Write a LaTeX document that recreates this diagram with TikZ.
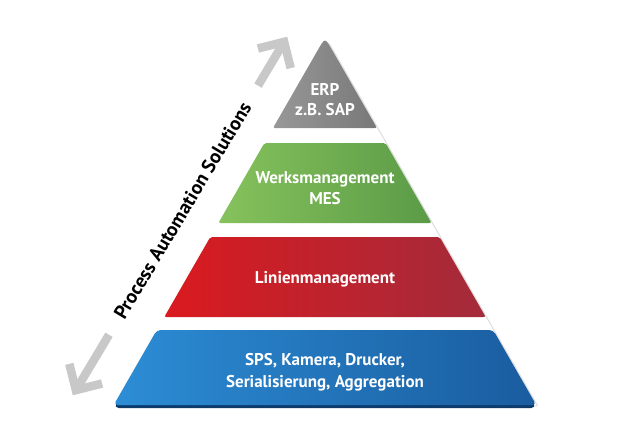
\documentclass[tikz,border=0pt]{standalone}
\usepackage{fontspec}
\setmainfont{PT Sans}
\usetikzlibrary{calc,shadows}
\definecolor{arrowgray}{HTML}{C8C8C8}
\definecolor{grayL}{HTML}{989898}
\definecolor{grayR}{HTML}{787878}
\definecolor{greenL}{HTML}{86C25C}
\definecolor{greenR}{HTML}{5B9B47}
\definecolor{redL}{HTML}{DA1A1F}
\definecolor{redR}{HTML}{A32B3B}
\definecolor{blueL}{HTML}{2C8DD5}
\definecolor{blueR}{HTML}{1A5C9F}
\definecolor{blueD}{HTML}{0C3B6C}
\begin{document}
\begin{tikzpicture}[x=1pt,y=-1pt,
  layertext/.style={text=white, font=\bfseries\fontsize{17}{20}\selectfont, anchor=base, inner sep=0pt},
  sidetext/.style={text=black, font=\bfseries\fontsize{19.5}{22}\selectfont, inner sep=0pt},
  arrowline/.style={draw=arrowgray, line width=8.5pt, line cap=butt, line join=miter, miter limit=10},
]
\useasboundingbox (0,0) rectangle (630,442);
\fill[white] (0,0) rectangle (630,442);

% white pyramid body with soft shadow (shows in the gaps)
\fill[white, drop shadow={shadow xshift=2pt, shadow yshift=-1pt, opacity=0.25}]
  (113.7,405) -- (317,51.5) .. controls (325,37.6) .. (333,51.5) -- (536.3,405) -- cycle;

% gray layer (top)
\shade[left color=grayL, right color=grayR, rounded corners=2pt]
  (273,128) -- (317,51.5) .. controls (325,37.6) .. (333,51.5) -- (377,128) -- cycle;

% green layer
\shade[left color=greenL, right color=greenR, rounded corners=2pt]
  (264.4,143) -- (385.6,143) -- (431.6,223) -- (218.4,223) -- cycle;

% red layer
\shade[left color=redL, right color=redR, rounded corners=2pt]
  (210.3,237) -- (439.7,237) -- (485.7,317) -- (164.3,317) -- cycle;

% blue layer with dark bottom edge
\fill[blueD, rounded corners=5pt]
  (158.5,333) -- (491.5,333) -- (536.3,408) -- (113.7,408) -- cycle;
\shade[left color=blueL, right color=blueR, rounded corners=4pt]
  (156.8,330) -- (493.2,330) -- (536.3,405) -- (113.7,405) -- cycle;

% texts
\node[layertext] (erp) at (325,95) {ERP};
\node[layertext] (sap) at (325,115) {z.B. SAP};
\node[layertext] (werk) at (325,183) {Werksmanagement};
\node[layertext] (mes) at (325,204) {MES};
\node[layertext] (linie) at (325,283) {Linienmanagement};
\node[layertext] (sps) at (325,365) {SPS, Kamera, Drucker,};
\node[layertext] (seri) at (325,387) {Serialisierung, Aggregation};

% double arrow along the left side
\coordinate (lowTip) at (75.9,390.1);
\coordinate (lowTail) at (109,334.8);
\coordinate (lowArmA) at (102.1,383.5);
\coordinate (lowArmB) at (69.3,363.9);
\coordinate (upTip) at (284.1,41.9);
\coordinate (upTail) at (258,85.6);
\coordinate (upArmA) at (257.9,48.5);
\coordinate (upArmB) at (290.7,68.1);
\draw[arrowline] (lowTail) -- (lowTip);
\draw[arrowline] (lowArmA) -- (lowTip) -- (lowArmB);
\draw[arrowline] (upTail) -- (upTip);
\draw[arrowline] (upArmA) -- (upTip) -- (upArmB);

\node[sidetext, rotate=59.1] (pas) at (182.5,210.5) {Process Automation Solutions};
\end{tikzpicture}
\end{document}
